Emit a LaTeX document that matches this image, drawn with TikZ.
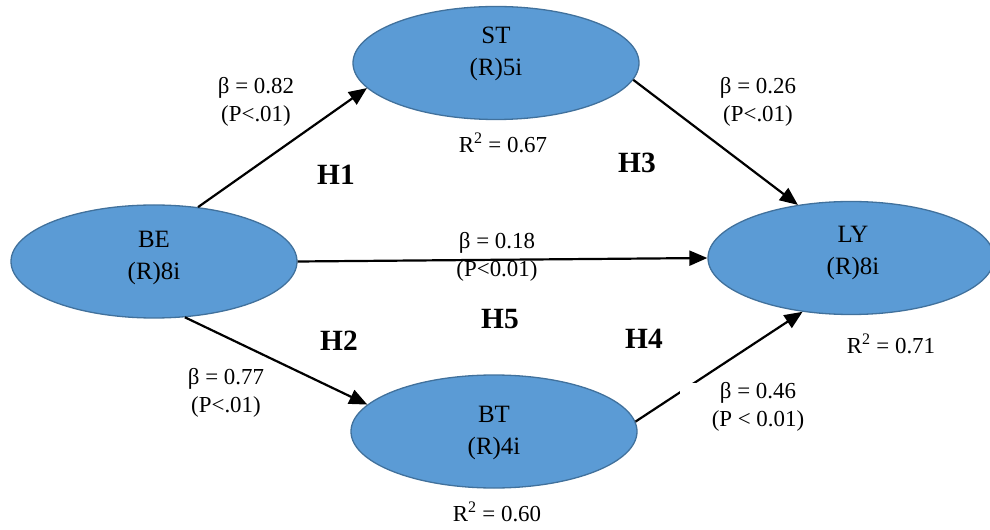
\documentclass[tikz,border=0pt]{standalone}
\usepackage{fontspec}
\setmainfont{Liberation Serif}
\usetikzlibrary{shapes.geometric,arrows.meta}
\definecolor{constructfill}{HTML}{5B9BD5}
\definecolor{constructedge}{HTML}{41719C}
\begin{document}
\begin{tikzpicture}[x=1bp,y=-1bp,
  construct/.style={ellipse, draw=constructedge, fill=constructfill, line width=1.3bp,
    minimum width=286bp, minimum height=113bp, inner sep=0pt},
  cname/.style={font=\fontsize{25}{32}\selectfont, align=center, inner sep=0pt},
  coef/.style={font=\fontsize{23}{28}\selectfont, align=center, inner sep=0pt},
  rsq/.style={font=\fontsize{23}{28}\selectfont, inner sep=0pt},
  hyp/.style={font=\fontsize{29.5}{33}\selectfont\bfseries, inner sep=0pt},
  effect/.style={line width=2.2bp, -{Triangle[length=18bp,width=15bp]}},
]
\useasboundingbox (0,0) rectangle (990,530);

% latent constructs
\node[construct] (BE) at (154,261.5) {};
\node[construct] (ST) at (496,63) {};
\node[construct] (LY) at (851,258) {};
\node[construct] (BT) at (494,431.5) {};

\node[cname] (BEt) at (154,258) {BE\\(R)8i};
\node[cname] (STt) at (496,54) {ST\\(R)5i};
\node[cname] (LYt) at (853,253) {LY\\(R)8i};
\node[cname] (BTt) at (494,433) {BT\\(R)4i};

% structural paths
\draw[effect] (BE.51) -- (ST.191);
\draw[effect] (ST.-7) -- (LY.135);
\draw[effect] (BE.east) -- (LY.west);
\draw[effect] (BE.-61) -- (BT.168.6);
\draw[effect] (BT.4) -- (LY.228);

% path coefficients
\node[coef] (c1) at (256,102) {β = 0.82\\(P<.01)};
\node[coef] (c3) at (758,102) {β = 0.26\\(P<.01)};
\node[coef] (c5) at (497,257) {β = 0.18\\(P<0.01)};
\node[coef] (c2) at (226,393) {β = 0.77\\(P<.01)};
\node[coef, fill=white, minimum width=156bp] (c4) at (758,407) {β = 0.46\\(P < 0.01)};

% explained variance
\node[rsq] (r1) at (503,143) {R\textsuperscript{2} = 0.67};
\node[rsq] (r2) at (891,344) {R\textsuperscript{2} = 0.71};
\node[rsq] (r3) at (497,512) {R\textsuperscript{2} = 0.60};

% hypotheses
\node[hyp] (h1) at (336,175) {H1};
\node[hyp] (h3) at (637,163) {H3};
\node[hyp] (h2) at (339,341) {H2};
\node[hyp] (h5) at (500,319) {H5};
\node[hyp] (h4) at (644,339) {H4};
\end{tikzpicture}
\end{document}
